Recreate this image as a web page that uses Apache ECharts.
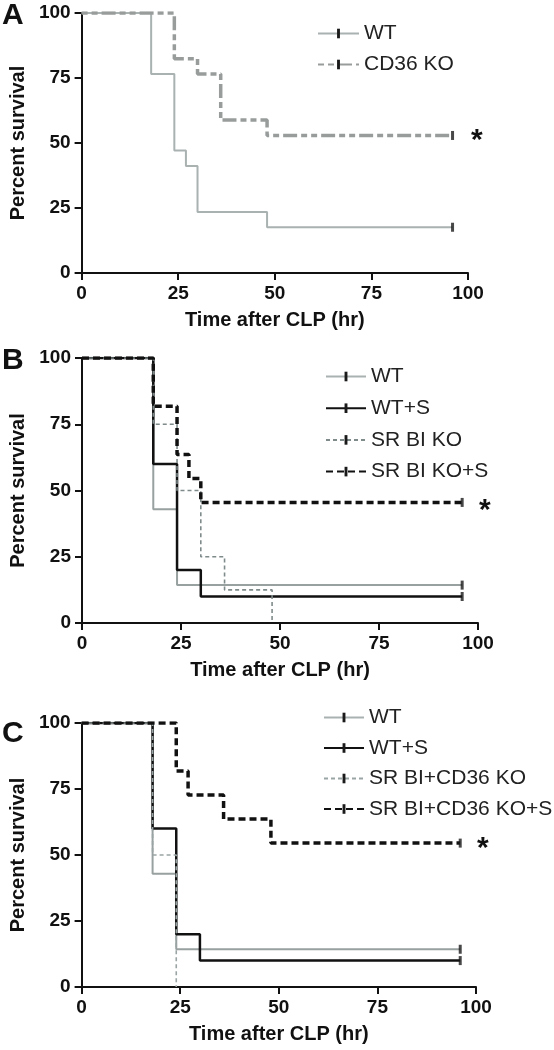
<!DOCTYPE html>
<html>
<head>
<meta charset="utf-8">
<script src="https://cdn.jsdelivr.net/npm/echarts@6/dist/echarts.min.js"></script>
<style>
html,body{margin:0;padding:0;background:#fff;}
#chart{width:554px;height:1050px;}
</style>
</head>
<body>
<div id="chart"></div>
<script>
// ---- Data (Kaplan-Meier step points: time [hr], percent survival) ----
const xTicks = [0, 25, 50, 75, 100];
const yTicks = [0, 25, 50, 75, 100];

// Panel A
const A_names = ['WT', 'CD36 KO'];
const A_WT_t = [0, 18, 24, 27, 30, 48, 96];
const A_WT_s = [100, 76.5, 47.1, 41.2, 23.5, 17.6, 17.6];
const A_CD36_t = [0, 24, 30, 36, 48, 96];
const A_CD36_s = [100, 82.4, 76.5, 58.8, 52.9, 52.9];

// Panel B
const B_names = ['WT', 'WT+S', 'SR BI KO', 'SR BI KO+S'];
const B_WT_t = [0, 18, 24, 96];
const B_WT_s = [100, 42.9, 14.3, 14.3];
const B_WTS_t = [0, 18, 24, 30, 96];
const B_WTS_s = [100, 60, 20, 10, 10];
const B_SRBI_t = [0, 18, 24, 30, 36, 48];
const B_SRBI_s = [100, 75, 50, 25, 12.5, 0];
const B_SRBIS_t = [0, 18, 24, 27, 30, 96];
const B_SRBIS_s = [100, 81.8, 63.6, 54.5, 45.5, 45.5];

// Panel C
const C_names = ['WT', 'WT+S', 'SR BI+CD36 KO', 'SR BI+CD36 KO+S'];
const C_WT_t = [0, 18, 24, 96];
const C_WT_s = [100, 42.9, 14.3, 14.3];
const C_WTS_t = [0, 18, 24, 30, 96];
const C_WTS_s = [100, 60, 20, 10, 10];
const C_DKO_t = [0, 18, 24];
const C_DKO_s = [100, 50, 0];
const C_DKOS_t = [0, 24, 27, 36, 48, 96];
const C_DKOS_s = [100, 81.8, 72.7, 63.6, 54.5, 54.5];

// Censored observations (time, percent)
const A_censor = [[96, 17.6], [96, 52.9]];
const B_censor = [[96, 14.3], [96, 10], [96, 45.5]];
const C_censor = [[96, 14.3], [96, 10], [96, 54.5]];

// ---- Build ----
const FONT = '"Liberation Sans", Arial, Helvetica, sans-serif';
const zip = (t, s) => t.map((v, i) => [v, s[i]]);
const tickSym = 'path://M0,0L0,0M10,0L10,0M10,10L10,10M0,10L0,10M3.5,0L6.5,0L6.5,10L3.5,10Z';

const grids = [
  {left: 80, top: 13, width: 388, height: 260},
  {left: 82, top: 358, width: 396, height: 265},
  {left: 81, top: 723, width: 395, height: 264}
];

function xAx(i) {
  return {
    type: 'value', gridIndex: i, min: 0, max: 100, interval: 25,
    name: 'Time after CLP (hr)', nameLocation: 'middle', nameGap: 37,
    nameTextStyle: {fontFamily: FONT, fontWeight: 'bold', fontSize: 20, color: '#111'},
    axisLine: {show: true, onZero: false, lineStyle: {color: '#111', width: 2}},
    axisTick: {show: true, length: 7, lineStyle: {color: '#111', width: 2}},
    axisLabel: {fontFamily: FONT, fontWeight: 'bold', fontSize: 19, color: '#111', margin: 11},
    splitLine: {show: false}
  };
}
function yAx(i) {
  return {
    type: 'value', gridIndex: i, min: 0, max: 100, interval: 25,
    name: 'Percent survival', nameLocation: 'middle', nameGap: 52,
    nameTextStyle: {fontFamily: FONT, fontWeight: 'bold', fontSize: 20, color: '#111'},
    axisLine: {show: true, onZero: false, lineStyle: {color: '#111', width: 2}},
    axisTick: {show: true, length: 7, lineStyle: {color: '#111', width: 2}},
    axisLabel: {fontFamily: FONT, fontWeight: 'bold', fontSize: 19, color: '#111', margin: 11},
    splitLine: {show: false}
  };
}

function km(name, gi, t, s, color, width, dash) {
  return {
    type: 'line', name: name, xAxisIndex: gi, yAxisIndex: gi,
    step: 'end', data: zip(t, s), showSymbol: false,
    symbol: tickSym, symbolSize: 10,
    itemStyle: {color: '#1a1a1a', borderWidth: 0},
    lineStyle: {color: color, width: width, type: dash || 'solid'},
    emphasis: {disabled: true}, silent: true, z: 2
  };
}
function censor(gi, pts) {
  return {
    type: 'scatter', name: 'censor' + gi, xAxisIndex: gi, yAxisIndex: gi,
    data: pts, symbol: 'rect', symbolSize: [3, 9],
    itemStyle: {color: '#1a1a1a'}, silent: true, z: 5
  };
}

const legendBase = {
  orient: 'vertical', itemWidth: 41, itemHeight: 12, itemGap: 10, padding: 0,
  textStyle: {fontFamily: FONT, fontSize: 21, color: '#222', lineHeight: 20},
  selectedMode: false
};

const option = {
  animation: false,
  backgroundColor: '#fff',
  grid: grids,
  xAxis: [xAx(0), xAx(1), xAx(2)],
  yAxis: [yAx(0), yAx(1), yAx(2)],
  legend: [
    Object.assign({}, legendBase, {left: 317, top: 23, data: A_names}),
    Object.assign({}, legendBase, {left: 325, top: 366, itemWidth: 40, itemGap: 10.7, data: B_names}),
    Object.assign({}, legendBase, {left: 323, top: 707, itemWidth: 40, itemGap: 9.5, data: C_names})
  ],
  series: [
    km(A_names[0], 0, A_WT_t, A_WT_s, '#a9b1b1', 2),
    km(A_names[1], 0, A_CD36_t, A_CD36_s, '#989d9c', 3.5, [6, 4, 6, 4, 14, 4]),
    censor(0, A_censor),

    km(B_names[0], 1, B_WT_t, B_WT_s, '#98a0a0', 2),
    km(B_names[1], 1, B_WTS_t, B_WTS_s, '#111111', 2.5),
    km(B_names[2], 1, B_SRBI_t, B_SRBI_s, '#7f8a8a', 1.6, [4, 3]),
    km(B_names[3], 1, B_SRBIS_t, B_SRBIS_s, '#111111', 3.5, [7, 4]),
    censor(1, B_censor),

    km(C_names[0], 2, C_WT_t, C_WT_s, '#98a0a0', 2),
    km(C_names[1], 2, C_WTS_t, C_WTS_s, '#111111', 2.5),
    km(C_names[2], 2, C_DKO_t, C_DKO_s, '#9aa4a4', 1.6, [4, 3]),
    km(C_names[3], 2, C_DKOS_t, C_DKOS_s, '#111111', 3.5, [7, 4]),
    censor(2, C_censor)
  ],
  graphic: [
    {type: 'text', left: 2, top: 1, style: {text: 'A', font: 'bold 30px ' + FONT, fill: '#111'}},
    {type: 'text', left: 2, top: 346, style: {text: 'B', font: 'bold 30px ' + FONT, fill: '#111'}},
    {type: 'text', left: 2, top: 719, style: {text: 'C', font: 'bold 30px ' + FONT, fill: '#111'}},
    {type: 'text', left: 471, top: 126, style: {text: '*', font: 'bold 30px ' + FONT, fill: '#111'}},
    {type: 'text', left: 479, top: 496, style: {text: '*', font: 'bold 30px ' + FONT, fill: '#111'}},
    {type: 'text', left: 477, top: 834, style: {text: '*', font: 'bold 30px ' + FONT, fill: '#111'}}
  ]
};

const chart = echarts.init(document.getElementById('chart'), null, {renderer: 'canvas'});
chart.setOption(option);
</script>
</body>
</html>
